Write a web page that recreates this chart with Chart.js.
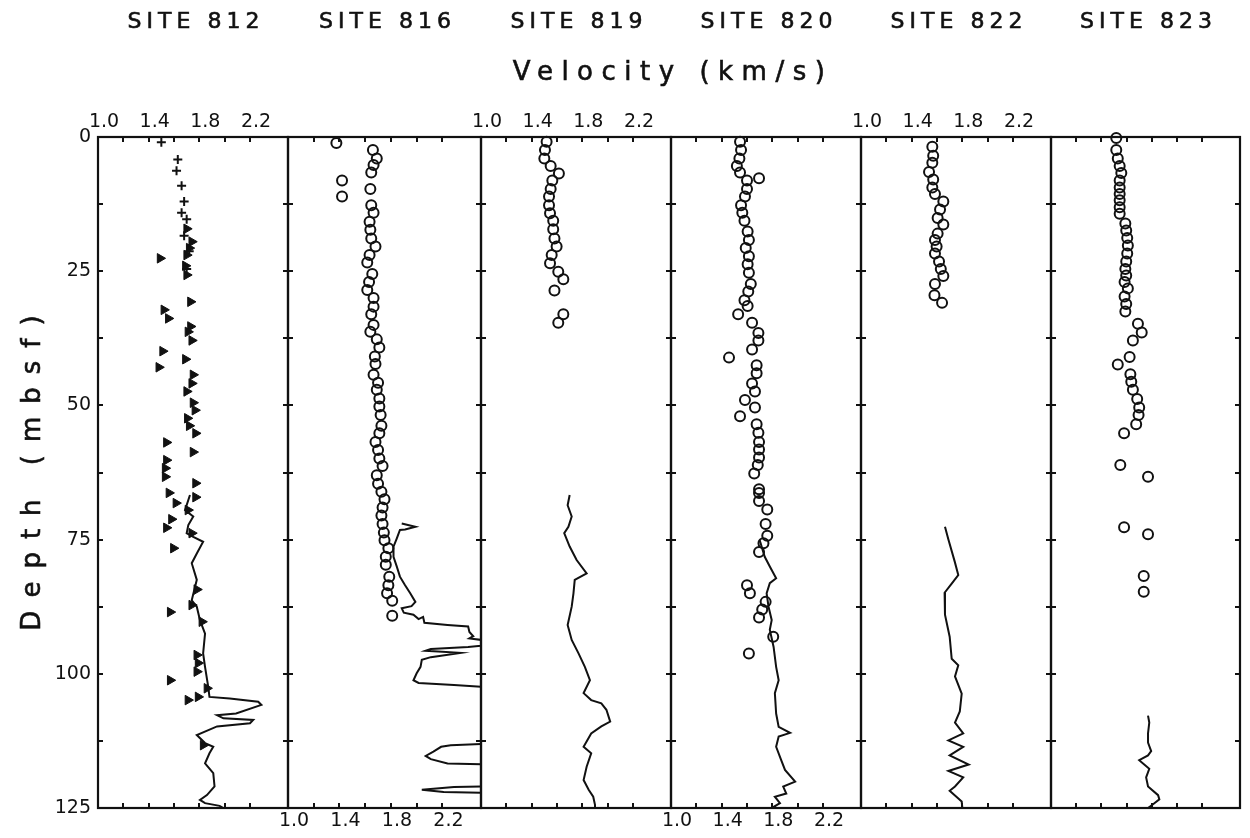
<!DOCTYPE html>
<html>
<head>
<meta charset="utf-8">
<title>Velocity profiles</title>
<script src="https://cdn.jsdelivr.net/npm/chart.js@4.4.1/dist/chart.umd.min.js"></script>
<style>
  body { margin: 0; background: #fff; }
  #wrap { position: relative; width: 1250px; height: 838px; }
  #wrap canvas { position: absolute; left: 0; top: 0; }
</style>
</head>
<body>
<div id="wrap"></div>
<script>
// depth (mbsf), velocity (km/s) pairs for each site
const sites = ["SITE 812", "SITE 816", "SITE 819", "SITE 820", "SITE 822", "SITE 823"];
const velocityLabels = [1.0, 1.4, 1.8, 2.2];
const depthLabels = [0, 25, 50, 75, 100, 125];

const s812Cross = [[1.0,1.50],[4.2,1.63],[6.3,1.62],[9.1,1.66],[12.0,1.68],[14.1,1.66],[15.3,1.70],
  [18.4,1.68],[21.3,1.72],[24.6,1.70]];
const s812Tri = [[17.1,1.70],[19.5,1.74],[20.7,1.72],[22.0,1.70],[22.6,1.49],[24.0,1.69],[25.7,1.70],
  [30.7,1.73],[32.2,1.52],[33.8,1.555],[35.3,1.73],[36.3,1.71],[37.9,1.74],[39.9,1.51],[41.4,1.69],
  [42.9,1.48],[44.3,1.75],[45.9,1.74],[47.4,1.70],[49.5,1.75],[50.9,1.765],[52.4,1.705],[53.8,1.72],
  [55.2,1.77],[56.9,1.54],[58.7,1.75],[60.2,1.54],[61.7,1.53],[63.3,1.53],[64.5,1.77],[66.3,1.56],
  [67.1,1.77],[68.2,1.615],[69.5,1.71],[71.2,1.58],[72.8,1.54],[73.8,1.74],[76.6,1.595],[84.3,1.78],
  [87.2,1.74],[88.5,1.57],[90.3,1.82],[96.5,1.78],[98.0,1.79],[99.6,1.78],[101.2,1.57],[102.7,1.86],
  [104.3,1.79],[104.9,1.71],[113.3,1.83]];
const s812Log = [[66.7,1.726],[69.5,1.687],[70.7,1.752],[72.3,1.713],[73.8,1.70],[74.5,1.752],[75.4,1.83],
  [77.6,1.78],[79.4,1.74],[82.5,1.78],[86.3,1.74],[87.5,1.78],[90.0,1.805],[92.5,1.845],[96.2,1.83],
  [98.7,1.845],[102.4,1.87],[104.3,1.88],[104.6,2.04],[105.2,2.265],[105.8,2.29],[107.4,2.09],[107.7,1.94],
  [108.3,1.99],[108.6,2.225],[109.2,2.20],[109.8,1.94],[111.4,1.78],[112.9,1.845],[113.6,1.91],[114.8,1.88],
  [116.7,1.845],[118.5,1.91],[121.0,1.92],[122.6,1.86],[123.5,1.805],[124.1,1.845],[124.6,1.96],[125,1.99]];

const s816Core = [[1.1,1.376],[2.4,1.66],[4.0,1.69],[5.2,1.665],[6.6,1.647],[8.1,1.42],[9.7,1.64],[11.1,1.42],
  [12.7,1.647],[14.1,1.665],[15.8,1.634],[17.3,1.64],[18.9,1.647],[20.4,1.68],[22.0,1.634],[23.4,1.616],
  [25.5,1.655],[27.0,1.63],[28.5,1.616],[30.0,1.665],[31.6,1.665],[33.0,1.647],[35.0,1.665],[36.3,1.64],
  [37.7,1.69],[39.2,1.71],[40.9,1.675],[42.3,1.68],[44.3,1.665],[45.8,1.70],[47.1,1.69],[48.7,1.71],
  [50.2,1.71],[51.8,1.72],[53.8,1.726],[55.2,1.71],[56.8,1.68],[58.3,1.70],[59.9,1.71],[61.3,1.735],
  [63.0,1.69],[64.6,1.70],[66.1,1.726],[67.5,1.75],[69.0,1.735],[70.5,1.726],[72.1,1.735],[73.7,1.745],
  [75.1,1.75],[76.6,1.78],[78.2,1.76],[79.7,1.76],[81.9,1.787],[83.5,1.78],[85.0,1.77],[86.4,1.81],[89.2,1.81]];
const s816Log = [[72.0,1.884],[72.6,1.99],[73.1,1.91],[73.2,1.87],[74.8,1.845],[76.3,1.82],[78.2,1.82],
  [80.0,1.845],[81.9,1.87],[83.5,1.91],[85.0,1.95],[86.6,1.99],[87.4,1.96],[87.8,1.884],[88.6,1.90],
  [89.0,1.975],[89.8,2.015],[89.4,2.05],[90.5,2.06],[90.9,2.24],[91.2,2.40],[92.2,2.41],[93.0,2.44],
  [93.4,2.41],[94.3,2.7],[95.0,2.40],[95.4,2.11],[95.7,2.07],[96.1,2.34],[96.9,2.11],[97.4,2.04],
  [98.7,2.03],[99.9,2.00],[101.2,1.975],[101.7,2.015],[102.1,2.29],[102.7,2.7],[112.9,2.7],[113.3,2.265],
  [113.6,2.19],[114.5,2.13],[115.3,2.07],[115.9,2.11],[116.7,2.24],[117.0,2.7],[120.9,2.7],[121.1,2.29],
  [121.6,2.04],[122.0,2.21],[122.3,2.7],[125,2.7]];

const s819Core = [[0.9,1.518],[2.4,1.505],[4.0,1.50],[5.4,1.55],[6.8,1.615],[8.1,1.563],[9.7,1.55],
  [11.1,1.537],[12.7,1.537],[14.2,1.545],[15.6,1.57],[17.2,1.57],[18.9,1.58],[20.4,1.597],[22.0,1.558],
  [23.5,1.545],[25.1,1.61],[26.5,1.65],[28.6,1.58],[33.0,1.65],[34.6,1.61]];
const s819Log = [[66.7,1.70],[68.6,1.684],[70.7,1.716],[72.6,1.69],[73.8,1.657],[76.3,1.70],[78.8,1.755],
  [81.3,1.834],[82.5,1.74],[85.0,1.73],[87.5,1.716],[90.9,1.684],[93.7,1.716],[96.2,1.77],[98.7,1.82],
  [101.2,1.86],[103.6,1.81],[104.9,1.87],[105.5,1.95],[106.7,1.99],[108.9,2.02],[109.8,1.95],[111.1,1.87],
  [113.6,1.81],[114.8,1.87],[117.3,1.834],[119.8,1.81],[121.6,1.85],[122.9,1.886],[124.4,1.90],[125,1.90]];

const s820Core = [[0.9,1.545],[2.4,1.553],[4.0,1.54],[5.4,1.52],[6.6,1.545],[7.7,1.695],[8.1,1.60],
  [9.7,1.60],[11.1,1.584],[12.7,1.553],[14.1,1.563],[15.6,1.58],[17.6,1.605],[19.2,1.615],[20.7,1.59],
  [22.2,1.615],[23.7,1.605],[25.3,1.615],[27.4,1.63],[28.8,1.61],[30.4,1.58],[31.5,1.605],[33.0,1.53],
  [34.6,1.64],[36.5,1.69],[37.9,1.69],[39.6,1.64],[41.1,1.458],[42.5,1.676],[44.0,1.676],[45.9,1.64],
  [47.4,1.663],[49.0,1.584],[50.4,1.663],[52.0,1.545],[53.5,1.676],[55.1,1.69],[56.8,1.695],[58.2,1.695],
  [59.7,1.695],[61.1,1.685],[62.7,1.657],[65.6,1.695],[66.3,1.695],[67.8,1.695],[69.4,1.76],[72.1,1.747],
  [74.3,1.76],[75.7,1.73],[77.3,1.695],[83.5,1.60],[85.0,1.623],[86.6,1.747],[88.0,1.72],[89.5,1.695],
  [93.1,1.807],[96.2,1.615]];
const s820Log = [[75.1,1.70],[78.2,1.74],[80.0,1.78],[82.2,1.83],[83.1,1.78],[85.0,1.755],[87.5,1.77],
  [90.0,1.795],[91.8,1.78],[95.0,1.81],[98.7,1.83],[101.2,1.85],[103.6,1.82],[107.4,1.83],[109.9,1.85],
  [111.0,1.94],[111.7,1.85],[113.6,1.83],[116.1,1.87],[117.9,1.90],[120.1,1.98],[121.0,1.886],[122.3,1.91],
  [122.9,1.82],[124.1,1.86],[124.8,1.81],[125,1.83]];

const s822Core = [[1.8,1.563],[3.5,1.57],[4.8,1.563],[6.5,1.537],[7.9,1.57],[9.4,1.563],[10.6,1.584],
  [12.0,1.65],[13.5,1.624],[15.1,1.605],[16.3,1.65],[18.0,1.605],[19.2,1.584],[20.4,1.597],[21.7,1.584],
  [23.2,1.616],[24.6,1.63],[25.9,1.65],[27.4,1.584],[29.5,1.58],[30.9,1.64]];
const s822Log = [[72.6,1.663],[75.0,1.69],[79.1,1.74],[81.6,1.768],[83.2,1.716],[84.9,1.66],[89.0,1.663],
  [93.1,1.70],[97.2,1.716],[98.4,1.768],[100.5,1.742],[103.7,1.795],[107.0,1.78],[109.1,1.742],[111.1,1.807],
  [112.4,1.69],[113.6,1.807],[115.2,1.70],[116.9,1.85],[118.1,1.69],[119.3,1.807],[121.0,1.742],[121.8,1.70],
  [123.8,1.795],[125,1.80]];

const s823Core = [[0.2,1.518],[2.4,1.518],[4.0,1.53],[5.4,1.545],[6.7,1.558],[8.1,1.545],[9.4,1.545],
  [10.6,1.545],[11.8,1.545],[13.1,1.545],[14.3,1.545],[16.1,1.59],[17.4,1.597],[18.8,1.605],[20.2,1.61],
  [21.7,1.605],[23.2,1.597],[24.6,1.59],[25.8,1.597],[27.0,1.584],[28.2,1.61],[29.7,1.584],[31.1,1.597],
  [32.5,1.59],[34.8,1.69],[36.4,1.72],[37.9,1.65],[41.0,1.624],[42.4,1.53],[44.2,1.63],[45.6,1.637],
  [47.1,1.65],[48.8,1.684],[50.4,1.70],[51.8,1.695],[53.5,1.676],[55.2,1.58],[61.1,1.55],[63.3,1.77],
  [72.7,1.58],[74.0,1.77],[81.8,1.736],[84.7,1.736]];
const s823Log = [[107.8,1.77],[109.1,1.78],[111.1,1.77],[112.8,1.77],[114.4,1.795],[115.2,1.77],[116.1,1.70],
  [116.9,1.74],[117.7,1.78],[119.3,1.755],[121.0,1.77],[122.6,1.85],[123.4,1.86],[124.3,1.81],[125,1.77]];

const siteSeries = [
  [{ data: s812Cross, kind: "cross" }, { data: s812Tri, kind: "tri" }, { data: s812Log, kind: "line" }],
  [{ data: s816Core, kind: "circle" }, { data: s816Log, kind: "line" }],
  [{ data: s819Core, kind: "circle" }, { data: s819Log, kind: "line" }],
  [{ data: s820Core, kind: "circle" }, { data: s820Log, kind: "line" }],
  [{ data: s822Core, kind: "circle" }, { data: s822Log, kind: "line" }],
  [{ data: s823Core, kind: "circle" }, { data: s823Log, kind: "line" }]
];

// panel frame edges across the page, and which side carries velocity labels
const panelEdges = [98, 288, 481, 671, 861, 1051, 1240];
const topLabels = [true, false, true, false, true, false];
const bottomLabels = [false, true, false, true, false, false];
const plotTop = 137, plotBottom = 808, headRoom = 100;
const FONT = "'DejaVu Sans', 'Liberation Sans', sans-serif";
const INK = "#111";

// box outline plus short inward ticks on all four sides
const frameTicks = {
  id: "frameTicks",
  afterDatasetsDraw(chart) {
    const { ctx, chartArea: a } = chart;
    const xs = chart.scales.x, ys = chart.scales.y;
    ctx.save();
    ctx.strokeStyle = INK;
    ctx.lineWidth = 2.2;
    ctx.strokeRect(a.left, a.top, a.right - a.left, a.bottom - a.top);
    ctx.lineWidth = 2;
    ctx.beginPath();
    xs.ticks.forEach(t => {
      if (t.value <= xs.min + 1e-6 || t.value >= xs.max - 1e-6) return;
      const px = Math.round(xs.getPixelForValue(t.value));
      ctx.moveTo(px, a.top); ctx.lineTo(px, a.top + 5);
      ctx.moveTo(px, a.bottom); ctx.lineTo(px, a.bottom - 5);
    });
    ys.ticks.forEach(t => {
      if (t.value <= ys.min + 1e-6 || t.value >= ys.max - 1e-6) return;
      const py = Math.round(ys.getPixelForValue(t.value));
      ctx.moveTo(a.left, py); ctx.lineTo(a.left + 5, py);
      ctx.moveTo(a.right, py); ctx.lineTo(a.right - 5, py);
    });
    ctx.stroke();
    ctx.restore();
  }
};

// lettering with a thin outline so it reads a little heavier than the book face
function letter(ctx, text, x, y) {
  ctx.fillText(text, x, y);
  ctx.strokeText(text, x, y);
}

// site name over each panel, plus the shared axis titles on the first one
const headings = {
  id: "headings",
  afterDraw(chart, args, opts) {
    const { ctx, chartArea: a } = chart;
    ctx.save();
    ctx.fillStyle = INK;
    ctx.strokeStyle = INK;
    ctx.lineWidth = 0.6;
    ctx.textAlign = "center";
    ctx.textBaseline = "middle";
    ctx.font = "22px " + FONT;
    ctx.letterSpacing = "5px";
    letter(ctx, opts.site, (a.left + a.right) / 2 + 3, 22);
    if (opts.axisTitles) {
      ctx.font = "26px " + FONT;
      ctx.letterSpacing = "8.5px";
      letter(ctx, "Velocity (km/s)", (panelEdges[0] + panelEdges[6]) / 2 + 4, 73);
      ctx.translate(33, (a.top + a.bottom) / 2);
      ctx.rotate(-Math.PI / 2);
      ctx.letterSpacing = "13px";
      letter(ctx, "Depth (mbsf)", 6, 0);
    }
    ctx.restore();
  }
};

function datasetFor(s) {
  const pts = s.data.map(p => ({ x: p[1], y: p[0] }));
  const base = { data: pts, borderColor: INK };
  if (s.kind === "line") {
    return Object.assign(base, { showLine: true, pointRadius: 0, borderWidth: 2, fill: false });
  }
  if (s.kind === "cross") {
    return Object.assign(base, { pointStyle: "cross", pointRadius: 4.5, borderWidth: 2, clip: 8 });
  }
  if (s.kind === "tri") {
    return Object.assign(base, { pointStyle: "triangle", rotation: 90, pointRadius: 5.5, borderWidth: 1,
      backgroundColor: INK, clip: 8 });
  }
  return Object.assign(base, { pointStyle: "circle", pointRadius: 5, borderWidth: 2,
    backgroundColor: "rgba(0,0,0,0)", clip: 8 });
}

function velocityTicks(show, where) {
  return {
    display: show, stepSize: 0.2, autoSkip: false, maxRotation: 0, minRotation: 0,
    padding: where === "top" ? 4 : 2, labelOffset: 6, color: INK,
    font: { family: FONT, size: 19 },
    callback: v => velocityLabels.includes(Math.round(v * 10) / 10) ? v.toFixed(1) : ""
  };
}

const noGrid = { display: false, drawTicks: false };
const wrap = document.getElementById("wrap");

sites.forEach((site, i) => {
  const canvas = document.createElement("canvas");
  canvas.width = 1250;
  canvas.height = 838;
  wrap.appendChild(canvas);

  new Chart(canvas, {
    type: "scatter",
    data: { datasets: siteSeries[i].map(datasetFor) },
    options: {
      responsive: false,
      animation: false,
      devicePixelRatio: 1,
      events: [],
      layout: {
        padding: {
          top: headRoom,
          bottom: 0,
          left: i === 0 ? 0 : panelEdges[i],
          right: 1250 - panelEdges[i + 1]
        }
      },
      plugins: {
        legend: { display: false },
        tooltip: { enabled: false },
        headings: { site: site, axisTitles: i === 0 }
      },
      scales: {
        x: {
          type: "linear", position: "top", min: 1.0, max: 2.5,
          grid: noGrid, border: { display: false },
          ticks: velocityTicks(topLabels[i], "top"),
          afterFit: s => { s.height = plotTop - headRoom; }
        },
        xb: {
          type: "linear", position: "bottom", min: 1.0, max: 2.5,
          grid: noGrid, border: { display: false },
          ticks: velocityTicks(bottomLabels[i], "bottom"),
          afterFit: s => { s.height = 838 - plotBottom; }
        },
        y: {
          type: "linear", position: "left", reverse: true, min: 0, max: 125,
          grid: noGrid, border: { display: false },
          ticks: {
            display: i === 0, stepSize: 12.5, autoSkip: false, padding: 7, color: INK,
            font: { family: FONT, size: 19 },
            callback: v => depthLabels.includes(v) ? String(v) : ""
          },
          afterFit: s => { s.width = i === 0 ? panelEdges[0] : 0; }
        }
      }
    },
    plugins: [frameTicks, headings]
  });
});
</script>
</body>
</html>
